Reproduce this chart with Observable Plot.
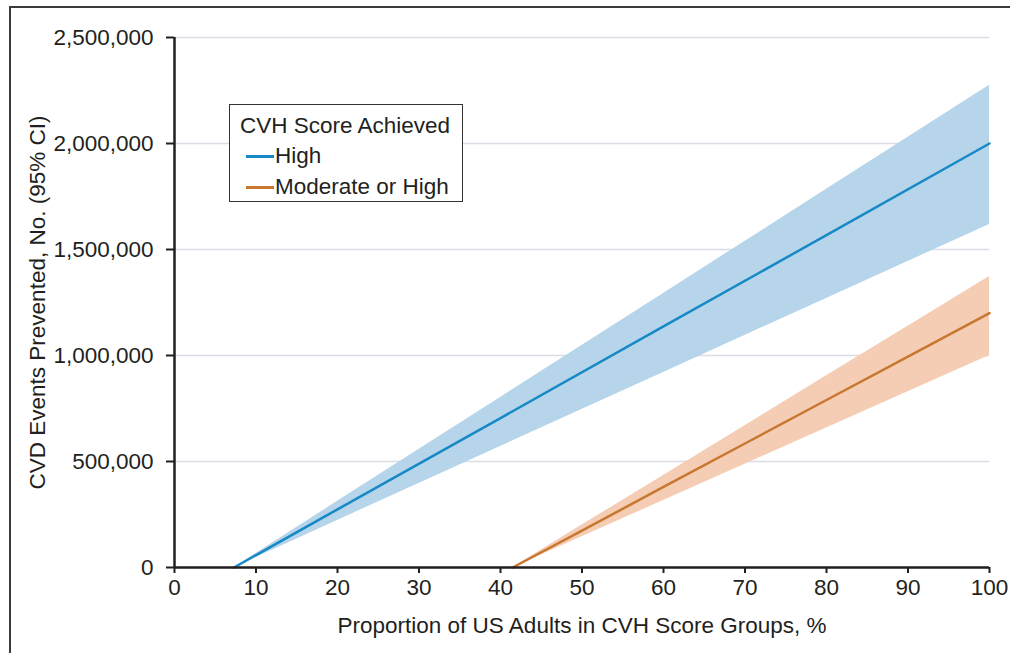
<!DOCTYPE html>
<html>
<head>
<meta charset="utf-8">
<script src="https://cdn.jsdelivr.net/npm/d3@7"></script>
<script src="https://cdn.jsdelivr.net/npm/@observablehq/plot@0.6"></script>
<style>
  html, body { margin: 0; padding: 0; background: #fff; }
  #wrap { position: relative; width: 1010px; height: 653px; overflow: hidden; font-family: "Liberation Sans", Arial, sans-serif; }
  #frame { position: absolute; left: 9px; top: 6px; width: 1010px; height: 700px; border-left: 2px solid #3a3a3a; border-top: 2px solid #3a3a3a; }
  #legend { position: absolute; left: 229px; top: 104px; width: 232px; height: 96px; border: 1.5px solid #333; background: #fff; font-size: 22.5px; color: #231f20; }
  #legend .title { position: absolute; left: 10px; top: 8px; white-space: nowrap; }
  #legend .item { position: absolute; left: 16px; display: flex; align-items: center; white-space: nowrap; }
  #legend .sw { width: 28px; height: 3px; margin-right: 1px; }
</style>
</head>
<body>
<div id="wrap">
  <div id="chart"></div>
  <div id="frame"></div>
  <div id="legend">
    <div class="title">CVH Score Achieved</div>
    <div class="item" style="top:38px"><div class="sw" style="background:#1789c7"></div><span>High</span></div>
    <div class="item" style="top:69px"><div class="sw" style="background:#c8772f"></div><span>Moderate or High</span></div>
  </div>
</div>
<script>
// High CVH score series
const highX     = [7.3, 20, 40, 60, 80, 100];
const highEst   = [0, 274000, 705000, 1137000, 1568000, 2000000];
const highLow   = [0, 222000, 571000, 920000, 1269000, 1618000];
const highHigh  = [0, 312000, 802000, 1293000, 1784000, 2275000];

// Moderate or High CVH score series
const modX      = [41.5, 50, 60, 70, 80, 90, 100];
const modEst    = [0, 174000, 380000, 585000, 790000, 995000, 1200000];
const modLow    = [0, 145000, 316000, 487000, 658000, 829000, 1000000];
const modHigh   = [0, 200000, 434000, 669000, 904000, 1138000, 1373000];

const xTicks = [0, 10, 20, 30, 40, 50, 60, 70, 80, 90, 100];
const yTicks = [0, 500000, 1000000, 1500000, 2000000, 2500000];

const high = highX.map((x, i) => ({x, est: highEst[i], lo: highLow[i], hi: highHigh[i]}));
const mod  = modX.map((x, i) => ({x, est: modEst[i], lo: modLow[i], hi: modHigh[i]}));

const chart = Plot.plot({
  width: 1010,
  height: 653,
  marginLeft: 174,
  marginRight: 21,
  marginTop: 37,
  marginBottom: 86,
  style: { fontFamily: "Liberation Sans, Arial, sans-serif", fontSize: "22.5px", color: "#231f20", background: "#fff" },
  x: { domain: [0, 100] },
  y: { domain: [0, 2500000] },
  marks: [
    Plot.gridY(yTicks, { stroke: "#dcdce6", strokeOpacity: 1, strokeWidth: 1.5 }),
    Plot.areaY(high, { x: "x", y1: "lo", y2: "hi", fill: "#b7d5ea" }),
    Plot.areaY(mod,  { x: "x", y1: "lo", y2: "hi", fill: "#f4cdb4" }),
    Plot.line(high, { x: "x", y: "est", stroke: "#1789c7", strokeWidth: 2.5 }),
    Plot.line(mod,  { x: "x", y: "est", stroke: "#c8772f", strokeWidth: 2.5 }),
    Plot.axisY(yTicks, {
      tickFormat: d3.format(","), tickSize: 8, tickPadding: 13, strokeWidth: 2, fontSize: 22.5,
      label: "CVD Events Prevented, No. (95% CI)", labelAnchor: "center", labelArrow: "none", labelOffset: 145
    }),
    Plot.axisX(xTicks, {
      tickSize: 6, tickPadding: 6, strokeWidth: 2, fontSize: 22.5,
      label: "Proportion of US Adults in CVH Score Groups, %", labelAnchor: "center", labelArrow: "none", labelOffset: 65
    }),
    Plot.ruleX([0], { y1: 0, y2: 2500000, stroke: "#231f20", strokeWidth: 2.5 }),
    Plot.ruleY([0], { x1: 0, x2: 100, stroke: "#231f20", strokeWidth: 2.5 })
  ]
});
document.getElementById("chart").appendChild(chart);
</script>
</body>
</html>
